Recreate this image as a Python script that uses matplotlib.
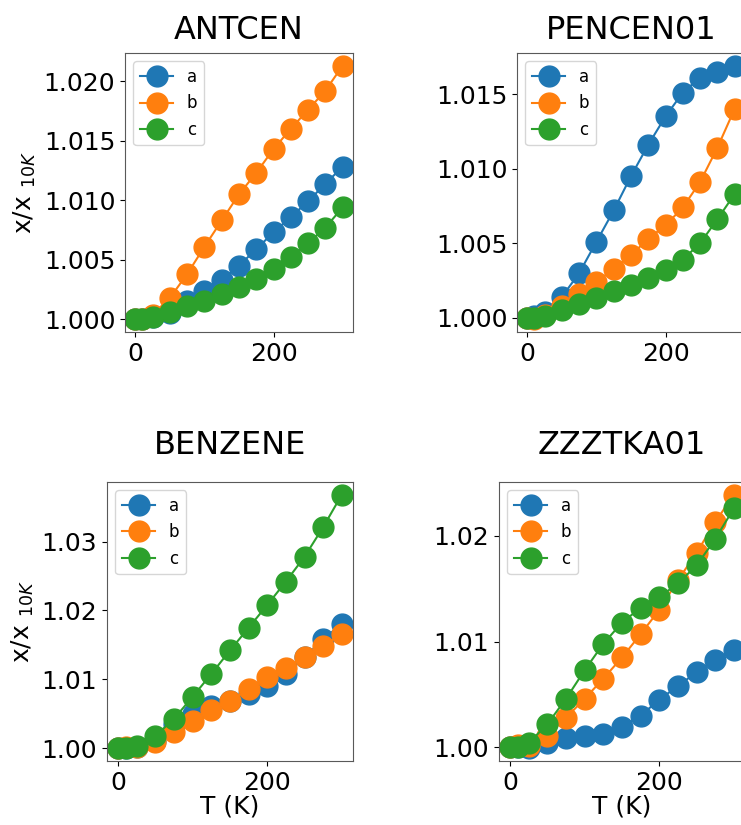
import matplotlib.pyplot as plt

# temperatures (K)
T = [0, 10, 25, 50, 75, 100, 125, 150, 175, 200, 225, 250, 275, 300]

titles = ['ANTCEN', 'PENCEN01', 'BENZENE', 'ZZZTKA01']

antcen_a = [1.0, 1.0, 1.0002, 1.0005, 1.0015, 1.0024, 1.0033, 1.0045, 1.0059, 1.0073, 1.0086, 1.0099, 1.0114, 1.0128]
antcen_b = [1.0, 1.0, 1.0004, 1.0018, 1.0038, 1.0061, 1.0083, 1.0105, 1.0123, 1.0143, 1.0160, 1.0176, 1.0192, 1.0213]
antcen_c = [1.0, 1.0, 1.0002, 1.0006, 1.0011, 1.0015, 1.0021, 1.0027, 1.0034, 1.0042, 1.0052, 1.0064, 1.0077, 1.0094]

pencen_a = [1.0, 1.0001, 1.0004, 1.0014, 1.0030, 1.0051, 1.0072, 1.0095, 1.0116, 1.0135, 1.0151, 1.0161, 1.0165, 1.0169]
pencen_b = [1.0, 0.9999, 1.0002, 1.0008, 1.0016, 1.0024, 1.0033, 1.0042, 1.0053, 1.0062, 1.0074, 1.0091, 1.0114, 1.0140]
pencen_c = [1.0, 1.0, 1.0001, 1.0005, 1.0009, 1.0013, 1.0018, 1.0022, 1.0027, 1.0032, 1.0039, 1.0050, 1.0066, 1.0083]

benzene_a = [1.0, 1.0, 1.0002, 1.0010, 1.0035, 1.0050, 1.0062, 1.0069, 1.0079, 1.0091, 1.0108, 1.0132, 1.0158, 1.0181]
benzene_b = [1.0, 1.0002, 1.0002, 1.0009, 1.0023, 1.0039, 1.0055, 1.0069, 1.0086, 1.0103, 1.0117, 1.0132, 1.0149, 1.0166]
benzene_c = [1.0, 1.0, 1.0003, 1.0018, 1.0043, 1.0075, 1.0108, 1.0142, 1.0175, 1.0208, 1.0242, 1.0278, 1.0321, 1.0368]

zzz_a = [1.0, 1.0, 0.9999, 1.0004, 1.0009, 1.0011, 1.0013, 1.0019, 1.0030, 1.0045, 1.0058, 1.0071, 1.0083, 1.0092]
zzz_b = [1.0, 1.0002, 1.0001, 1.0011, 1.0028, 1.0046, 1.0065, 1.0085, 1.0107, 1.0130, 1.0158, 1.0184, 1.0213, 1.0239]
zzz_c = [1.0, 1.0, 1.0004, 1.0022, 1.0046, 1.0073, 1.0098, 1.0118, 1.0132, 1.0142, 1.0155, 1.0172, 1.0197, 1.0226]

data = [
    (antcen_a, antcen_b, antcen_c),
    (pencen_a, pencen_b, pencen_c),
    (benzene_a, benzene_b, benzene_c),
    (zzz_a, zzz_b, zzz_c),
]

W, H = 741, 825
fig = plt.figure(figsize=(W / 100, H / 100), dpi=100)

# axes boxes in pixels: left, top, right, bottom (right panels run off the image)
boxes = [
    (125, 53, 353, 332),
    (517, 53, 745, 332),
    (107, 482, 353, 761),
    (499, 482, 745, 761),
]

for i, (box, title, series) in enumerate(zip(boxes, titles, data)):
    l, t, r, b = box
    ax = fig.add_axes([l / W, 1 - b / H, (r - l) / W, (b - t) / H])
    for vals, lab in zip(series, ['a', 'b', 'c']):
        ax.plot(T, vals, '-o', markersize=15, linewidth=1.5, label=lab)
    ax.set_title(title, fontsize=23, pad=10 if i < 2 else 20)
    ax.tick_params(labelsize=18)
    for sp in ax.spines.values():
        sp.set_edgecolor('0.35')
    ax.legend(loc='upper left', fontsize=12)
    if i % 2 == 0:
        ax.set_ylabel('x/x $_{10K}$', fontsize=18)
    if i >= 2:
        ax.set_xlabel('T (K)', fontsize=18, labelpad=0)

plt.savefig('out.png', dpi=100)
